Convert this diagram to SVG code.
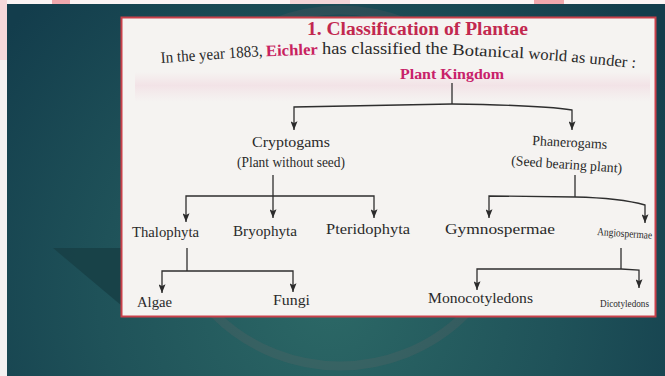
<svg xmlns="http://www.w3.org/2000/svg" width="665" height="376" viewBox="0 0 665 376">
<defs>
<radialGradient id="bg" cx="330" cy="300" r="420" gradientUnits="userSpaceOnUse">
<stop offset="0" stop-color="#2c6866"/>
<stop offset="0.55" stop-color="#1f5259"/>
<stop offset="1" stop-color="#133d4c"/>
</radialGradient>
<linearGradient id="wash" x1="0" y1="0" x2="0" y2="1">
<stop offset="0" stop-color="#f2d6de" stop-opacity="0"/>
<stop offset="0.45" stop-color="#f0d6de" stop-opacity="0.55"/>
<stop offset="1" stop-color="#f2dde3" stop-opacity="0"/>
</linearGradient>
<marker id="ad" viewBox="0 0 8 10" refX="4" refY="10" markerWidth="7" markerHeight="10" markerUnits="userSpaceOnUse" orient="0">
<path d="M0,0 L4,2 L8,0 L4,10 z" fill="#2b2b2b"/>
</marker>
</defs>
<style>
.t{font-family:"Liberation Serif","Times New Roman",serif;fill:#2a2a2a}
.p{font-family:"Liberation Serif","Times New Roman",serif;fill:#c8226a;font-weight:bold}
.i{font-size:16px}
.c{fill:none;stroke:#2e2e2e;stroke-width:1.3}
</style>
<rect width="665" height="376" fill="url(#bg)"/>
<rect x="0" y="0" width="665" height="4" fill="#fbf4f4"/>
<rect x="0" y="0" width="7" height="376" fill="#f4f1f1"/>
<rect x="0" y="0" width="7" height="60" fill="#f6d8da"/>
<rect x="52" y="0" width="18" height="4" fill="#f0a8ad"/>
<rect x="290" y="0" width="60" height="4" fill="#f3d5d7"/>
<rect x="534" y="0" width="30" height="4" fill="#f0a8ad"/>
<circle cx="340" cy="188" r="178" fill="none" stroke="#c07070" stroke-opacity="0.10" stroke-width="9"/>
<polygon points="53,248 122,248 122,306" fill="#173f45" opacity="0.85"/>
<g id="page">
<rect x="121.5" y="17.5" width="534" height="299" fill="#f5f3f1" stroke="#c9404a" stroke-width="2"/>
<rect x="135" y="72" width="515" height="30" fill="url(#wash)"/>
</g>
<g id="title">
<text class="p" x="307" y="35" font-size="18" textLength="221" lengthAdjust="spacingAndGlyphs" style="fill:#c2284f">1.  Classification of Plantae</text>
</g>
<g id="intro">
<text class="t i" x="161" y="63" textLength="102" lengthAdjust="spacingAndGlyphs" transform="rotate(-4 161 63)">In the year 1883,</text>
<text class="p i" x="266" y="56.2" textLength="52" lengthAdjust="spacingAndGlyphs" transform="rotate(-2 266 56.2)" style="fill:#c8225f">Eichler</text>
<text class="t i" x="322" y="54.2" textLength="126" lengthAdjust="spacingAndGlyphs">has classified the</text>
<text class="t i" x="452" y="54.8" textLength="72" lengthAdjust="spacingAndGlyphs" transform="rotate(2.7 452 54.8)">Botanical</text>
<text class="t i" x="528" y="58.5" textLength="39" lengthAdjust="spacingAndGlyphs" transform="rotate(4.2 528 58.5)">world</text>
<text class="t i" x="571" y="61.8" textLength="65" lengthAdjust="spacingAndGlyphs" transform="rotate(5.5 571 61.8)">as under :</text>
</g>
<g id="connectors">
<path class="c" d="M452,83 V104"/>
<path class="c" d="M452,104 L294,107 V130" marker-end="url(#ad)"/>
<path class="c" d="M452,104 Q540,105 572,110 V130" marker-end="url(#ad)"/>
<path class="c" d="M273,175 V218" marker-end="url(#ad)"/>
<path class="c" d="M273,196 L186,196 V222" marker-end="url(#ad)"/>
<path class="c" d="M273,196 L374,196 V218" marker-end="url(#ad)"/>
<path class="c" d="M575,175 V197"/>
<path class="c" d="M575,197 L489,196 V218" marker-end="url(#ad)"/>
<path class="c" d="M575,197 Q620,198 645,205 V223" marker-end="url(#ad)"/>
<path class="c" d="M187,248 V271"/>
<path class="c" d="M187,271 L162,271 V293" marker-end="url(#ad)"/>
<path class="c" d="M187,271 L293,271 V292" marker-end="url(#ad)"/>
<path class="c" d="M621,248 V269"/>
<path class="c" d="M621,269 L477,269 V290" marker-end="url(#ad)"/>
<path class="c" d="M621,269 L639,270 V288" marker-end="url(#ad)"/>
</g>
<g id="plant-kingdom"><text class="p" x="400" y="79" font-size="14" textLength="104" lengthAdjust="spacingAndGlyphs">Plant Kingdom</text></g>
<g id="cryptogams">
<text class="t" x="252" y="147" font-size="14" textLength="78" lengthAdjust="spacingAndGlyphs">Cryptogams</text>
<text class="t" x="237" y="167" font-size="14" textLength="108" lengthAdjust="spacingAndGlyphs">(Plant without seed)</text>
</g>
<g id="phanerogams">
<text class="t" x="532" y="145" font-size="14" textLength="75" lengthAdjust="spacingAndGlyphs" transform="rotate(3 532 145)">Phanerogams</text>
<text class="t" x="511" y="165" font-size="14" textLength="111" lengthAdjust="spacingAndGlyphs" transform="rotate(4 511 165)">(Seed bearing plant)</text>
</g>
<g id="thalophyta"><text class="t" x="132" y="237" font-size="14" textLength="67" lengthAdjust="spacingAndGlyphs">Thalophyta</text></g>
<g id="bryophyta"><text class="t" x="233" y="236" font-size="14" textLength="64" lengthAdjust="spacingAndGlyphs">Bryophyta</text></g>
<g id="pteridophyta"><text class="t" x="326" y="234" font-size="14" textLength="84" lengthAdjust="spacingAndGlyphs">Pteridophyta</text></g>
<g id="gymnospermae"><text class="t" x="445" y="234" font-size="14" textLength="110" lengthAdjust="spacingAndGlyphs">Gymnospermae</text></g>
<g id="angiospermae"><text class="t" x="597" y="235" font-size="11" textLength="55" lengthAdjust="spacingAndGlyphs" transform="rotate(4 597 235)">Angiospermae</text></g>
<g id="algae"><text class="t" x="137" y="307" font-size="14" textLength="35" lengthAdjust="spacingAndGlyphs">Algae</text></g>
<g id="fungi"><text class="t" x="273" y="305" font-size="14" textLength="37" lengthAdjust="spacingAndGlyphs">Fungi</text></g>
<g id="monocotyledons"><text class="t" x="428" y="303" font-size="14" textLength="105" lengthAdjust="spacingAndGlyphs">Monocotyledons</text></g>
<g id="dicotyledons"><text class="t" x="600" y="307" font-size="10" textLength="49" lengthAdjust="spacingAndGlyphs">Dicotyledons</text></g>
</svg>
